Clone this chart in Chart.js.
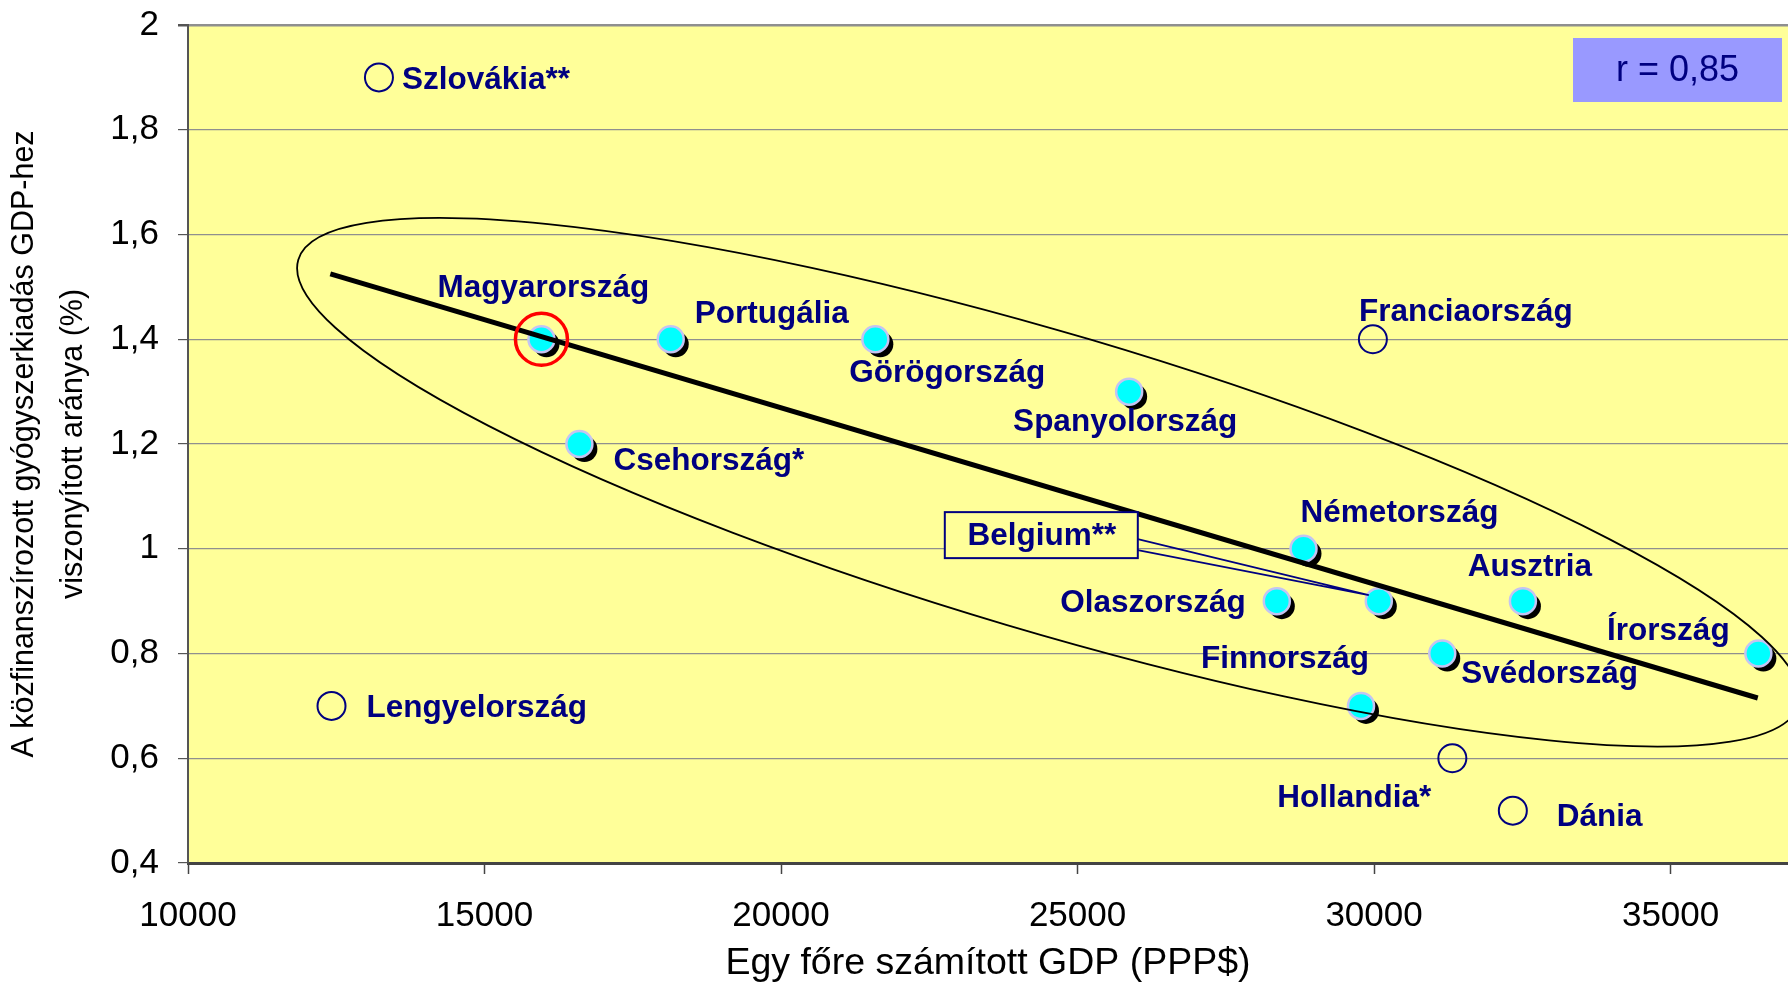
<!DOCTYPE html>
<html>
<head>
<meta charset="utf-8">
<title>Gyógyszerkiadás és GDP</title>
<script src="https://cdn.jsdelivr.net/npm/chart.js@4.4.1/dist/chart.umd.min.js"></script>
<style>
    html, body { margin: 0; padding: 0; background: #ffffff; }
    #chartWrap { width: 1788px; height: 983px; }
</style>
</head>
<body>
<div id="chartWrap"><canvas id="gdpChart" width="1788" height="983"></canvas></div>
<script>
// countries inside the ellipse (filled points)
const insideNames = ['Magyarország', 'Portugália', 'Görögország', 'Spanyolország', 'Csehország*', 'Németország',
    'Olaszország', 'Belgium**', 'Ausztria', 'Svédország', 'Finnország', 'Írország'];
const insideGdp = [15960, 18140, 21590, 25870, 16600, 28810, 28360, 30080, 32510, 31150, 29780, 36480];
const insideShare = [1.4, 1.4, 1.4, 1.3, 1.2, 1.0, 0.9, 0.9, 0.9, 0.8, 0.7, 0.8];

// outliers (open circles)
const outsideNames = ['Szlovákia**', 'Lengyelország', 'Franciaország', 'Hollandia*', 'Dánia'];
const outsideGdp = [13220, 12420, 29980, 31320, 32340];
const outsideShare = [1.9, 0.7, 1.4, 0.6, 0.5];

// regression line
const trendGdp = [12400, 36470];
const trendShare = [1.525, 0.715];

// tick labels
const xTicks = [10000, 15000, 20000, 25000, 30000, 35000];
const yTicks = [0.4, 0.6, 0.8, 1, 1.2, 1.4, 1.6, 1.8, 2];

const correlationText = 'r = 0,85';
const highlighted = 0; // Magyarország

// ellipse around the group (center, end of the long axis, short/long ratio)
const ellipseCenter = [24510, 1.127];
const ellipseTip = [37160, 0.702];
const ellipseRatio = 0.19;

// label placement: [dx, dy, align] in pixels from the point
const insideLabelPos = [
    [2, -54, 'center'], [101, -28, 'center'], [72, 31, 'center'], [-4, 28, 'center'],
    [34, 15, 'left'], [96, -38, 'center'], [-31, 0, 'right'], [-337, -67, 'center'],
    [7, -36, 'center'], [19, 18, 'left'], [-76, -49, 'center'], [-90, -25, 'center']
];
const outsideLabelPos = [
    [23, 0, 'left'], [35, 0, 'left'], [93, -30, 'center'], [-98, 37, 'center'], [44, 4, 'left']
];

const FONT = '"Liberation Sans", Arial, Helvetica, sans-serif';
const NAVY = '#000080';
const LABEL_SIZE = 31.5;
Chart.defaults.font.family = FONT;
Chart.defaults.color = '#000000';

function toPoints(xs, ys) {
    return xs.map((v, i) => ({ x: v, y: ys[i] }));
}

function fmtShare(v) {
    return String(Math.round(v * 10) / 10).replace('.', ',');
}

// yellow plot background
const plotBackground = {
    id: 'plotBackground',
    beforeDraw(chart) {
        const { ctx, chartArea: a } = chart;
        ctx.save();
        ctx.fillStyle = '#FFFF99';
        ctx.fillRect(a.left, a.top, a.right - a.left, a.bottom - a.top);
        ctx.restore();
    }
};

// shift the shadow dataset down-right
const pointShadow = {
    id: 'pointShadow',
    beforeDatasetDraw(chart, args) {
        if (args.index !== 0) return;
        chart.ctx.save();
        chart.ctx.translate(5, 5);
    },
    afterDatasetDraw(chart, args) {
        if (args.index !== 0) return;
        chart.ctx.restore();
    }
};

function drawLabel(ctx, text, x, y, align) {
    ctx.textAlign = align;
    ctx.fillText(text, x, y + 0.358 * LABEL_SIZE);
}

// ellipse, point labels, Belgium callout, r box
const annotations = {
    id: 'annotations',
    afterDatasetsDraw(chart) {
        const { ctx, chartArea: area, scales: { x, y } } = chart;

        ctx.save();
        ctx.beginPath();
        ctx.rect(area.left, area.top, area.right - area.left, area.bottom - area.top);
        ctx.clip();
        const cx = x.getPixelForValue(ellipseCenter[0]);
        const cy = y.getPixelForValue(ellipseCenter[1]);
        const tx = x.getPixelForValue(ellipseTip[0]);
        const ty = y.getPixelForValue(ellipseTip[1]);
        const rx = Math.hypot(tx - cx, ty - cy);
        ctx.beginPath();
        ctx.ellipse(cx, cy, rx, rx * ellipseRatio, Math.atan2(ty - cy, tx - cx), 0, Math.PI * 2);
        ctx.strokeStyle = '#000000';
        ctx.lineWidth = 1.8;
        ctx.stroke();
        ctx.restore();

        ctx.save();
        ctx.font = 'bold ' + LABEL_SIZE + 'px ' + FONT;
        ctx.fillStyle = NAVY;
        ctx.textBaseline = 'alphabetic';

        insideNames.forEach((name, i) => {
            const px = x.getPixelForValue(insideGdp[i]);
            const py = y.getPixelForValue(insideShare[i]);
            const [dx, dy, align] = insideLabelPos[i];
            if (name === 'Belgium**') {
                const bx = px - 434, by = py - 89, bw = 193, bh = 46;
                ctx.strokeStyle = NAVY;
                ctx.lineWidth = 1.6;
                ctx.beginPath();
                ctx.moveTo(bx + bw, by + 27);
                ctx.lineTo(px - 10, py - 6);
                ctx.lineTo(bx + bw, by + 38);
                ctx.stroke();
                ctx.fillStyle = '#FFFF99';
                ctx.fillRect(bx, by, bw, bh);
                ctx.lineWidth = 2;
                ctx.strokeRect(bx, by, bw, bh);
                ctx.fillStyle = NAVY;
            }
            drawLabel(ctx, name, px + dx, py + dy, align);
        });

        outsideNames.forEach((name, i) => {
            const px = x.getPixelForValue(outsideGdp[i]);
            const py = y.getPixelForValue(outsideShare[i]);
            const [dx, dy, align] = outsideLabelPos[i];
            drawLabel(ctx, name, px + dx, py + dy, align);
        });

        // correlation box
        ctx.fillStyle = '#9999FF';
        ctx.fillRect(area.right - 215, area.top + 13, 209, 64);
        ctx.font = '36px ' + FONT;
        ctx.fillStyle = NAVY;
        ctx.textAlign = 'center';
        ctx.fillText(correlationText, area.right - 110.5, area.top + 43.5 + 12.9);
        ctx.restore();
    }
};

const ctx = document.getElementById('gdpChart').getContext('2d');

const chart = new Chart(ctx, {
    type: 'scatter',
    data: {
        datasets: [
            {
                // shadow of the filled points
                data: toPoints(insideGdp, insideShare),
                pointRadius: 13,
                pointBackgroundColor: '#000000',
                pointBorderWidth: 0,
                order: 5
            },
            {
                data: toPoints(insideGdp, insideShare),
                pointRadius: 13,
                pointBackgroundColor: '#00FFFF',
                pointBorderColor: '#C4C4F2',
                pointBorderWidth: 2.5,
                order: 4
            },
            {
                data: toPoints(outsideGdp, outsideShare),
                pointRadius: 14,
                pointBackgroundColor: 'rgba(0,0,0,0)',
                pointBorderColor: NAVY,
                pointBorderWidth: 2,
                order: 4
            },
            {
                data: toPoints(trendGdp, trendShare),
                showLine: true,
                borderColor: '#000000',
                borderWidth: 5,
                pointRadius: 0,
                order: 2
            },
            {
                data: [{ x: insideGdp[highlighted], y: insideShare[highlighted] }],
                pointRadius: 26,
                pointBackgroundColor: 'rgba(0,0,0,0)',
                pointBorderColor: '#FF0000',
                pointBorderWidth: 3.5,
                order: 1
            }
        ]
    },
    options: {
        responsive: false,
        animation: false,
        devicePixelRatio: 1,
        layout: { autoPadding: false, padding: { top: 25, left: 0, right: 0, bottom: 0 } },
        plugins: {
            legend: { display: false },
            tooltip: { enabled: false }
        },
        scales: {
            x: {
                type: 'linear',
                min: 10000,
                max: 36980,
                afterBuildTicks: s => { s.ticks = xTicks.map(v => ({ value: v })); },
                afterFit: s => {
                    s.height = 120;
                    s.paddingLeft = 0;
                    s.paddingRight = 0;
                },
                ticks: {
                    font: { size: 35 },
                    color: '#000000',
                    padding: 21,
                    maxRotation: 0,
                    callback: v => String(v)
                },
                grid: {
                    drawOnChartArea: false,
                    drawTicks: true,
                    tickLength: 11,
                    tickColor: '#444444',
                    tickWidth: 1.5
                },
                border: { color: '#444444', width: 3 },
                title: {
                    display: true,
                    text: 'Egy főre számított GDP (PPP$)',
                    font: { size: 37.5, lineHeight: 1.0 },
                    color: '#000000',
                    padding: { top: 0, bottom: 1 }
                }
            },
            y: {
                type: 'linear',
                min: 0.4,
                max: 2,
                afterBuildTicks: s => { s.ticks = yTicks.map(v => ({ value: v })); },
                afterFit: s => {
                    s.width = 188;
                    s.paddingTop = 0;
                    s.paddingBottom = 0;
                },
                ticks: {
                    font: { size: 35 },
                    color: '#000000',
                    padding: 19,
                    callback: v => fmtShare(v)
                },
                grid: {
                    color: '#8f8f8f',
                    lineWidth: c => (c.tick && c.tick.value === 2 ? 2.5 : 1.2),
                    tickLength: 10,
                    tickColor: '#555555'
                },
                border: { color: '#555555', width: 2 },
                title: {
                    display: true,
                    text: ['A közfinanszírozott gyógyszerkiadás GDP-hez', 'viszonyított aránya (%)'],
                    font: { size: 30.5, lineHeight: 1.6 },
                    color: '#000000',
                    padding: { top: 0.5, bottom: 0 }
                }
            }
        }
    },
    plugins: [plotBackground, pointShadow, annotations]
});
</script>
</body>
</html>
